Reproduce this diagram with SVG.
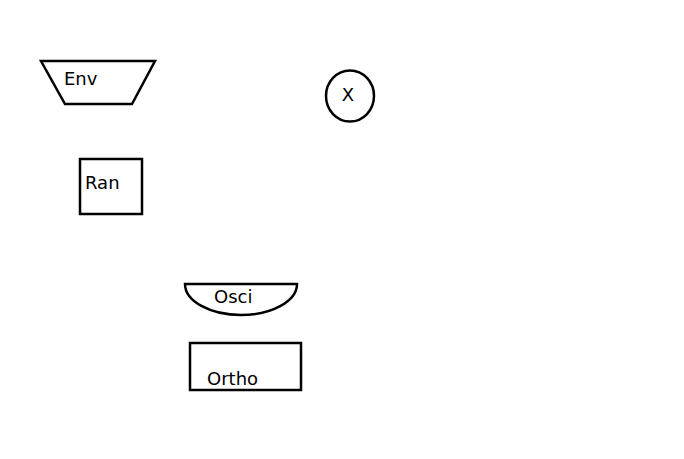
<svg xmlns="http://www.w3.org/2000/svg" width="684" height="459" viewBox="0 0 684 459">
<style>
.s{fill:none;stroke:#000;stroke-width:2.5}
.t{font-family:"DejaVu Sans",sans-serif;font-size:18px;fill:#000}
</style>
<rect width="684" height="459" fill="#fff"/>
<g id="env"><path class="s" d="M41,61 H155 L132,104 H65 Z"/><text class="t" x="64" y="85">Env</text></g>
<g id="x"><ellipse class="s" cx="350" cy="96" rx="24" ry="25.5"/><text class="t" x="348" y="101" text-anchor="middle">X</text></g>
<g id="ran"><rect class="s" x="80" y="159" width="62" height="55"/><text class="t" x="85" y="189">Ran</text></g>
<g id="osci"><path class="s" d="M185,284 H297 A56,31 0 0 1 185,284 Z"/><text class="t" x="214" y="303">Osci</text></g>
<g id="ortho"><rect class="s" x="190" y="343" width="111" height="47"/><text class="t" x="207" y="385">Ortho</text></g>
<g id="connectors"></g>
</svg>
